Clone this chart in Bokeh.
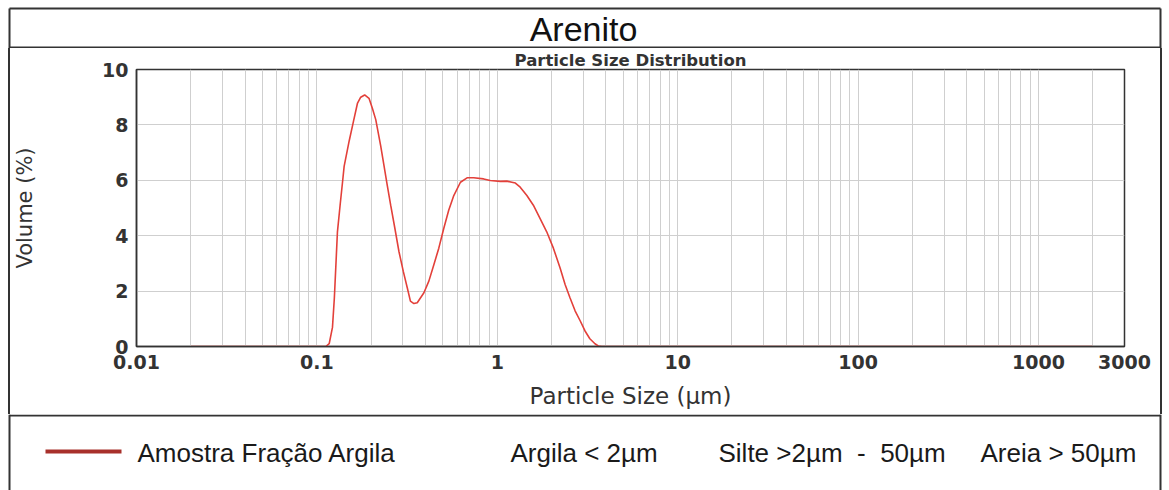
from bokeh.plotting import figure
from bokeh.models import FixedTicker, Range1d, Div
from bokeh.layouts import column, row
from bokeh.core.properties import value
from bokeh.embed import file_html
from bokeh.resources import INLINE

# Particle size distribution of the clay fraction (size in µm, volume in %)
size_um = [0.02, 0.112, 0.117, 0.122, 0.125, 0.130, 0.1345, 0.1387, 0.1416, 0.151,
           0.1595, 0.168, 0.175, 0.184, 0.1945, 0.203, 0.212, 0.2258, 0.2355, 0.2457,
           0.2565, 0.2707, 0.285, 0.3013, 0.317, 0.330, 0.345, 0.360, 0.392, 0.4175,
           0.445, 0.474, 0.505, 0.538, 0.574, 0.625, 0.68, 0.74, 0.84, 0.914,
           1.04, 1.13, 1.205, 1.26, 1.34, 1.459, 1.585, 1.728, 1.88, 2.047,
           2.23, 2.377, 2.53, 2.70, 2.88, 3.06, 3.26, 3.48, 3.63, 3.8,
           2000]
volume_pct = [0.0, 0.0, 0.10, 0.69, 1.76, 4.14, 5.10, 5.93, 6.50, 7.42,
              8.13, 8.79, 9.00, 9.08, 8.96, 8.60, 8.19, 7.24, 6.53, 5.81,
              5.10, 4.26, 3.43, 2.71, 2.12, 1.64, 1.55, 1.58, 1.94, 2.36,
              2.95, 3.55, 4.26, 4.92, 5.45, 5.93, 6.09, 6.09, 6.05, 5.99,
              5.96, 5.97, 5.93, 5.90, 5.75, 5.45, 5.10, 4.62, 4.14, 3.55,
              2.83, 2.24, 1.76, 1.29, 0.93, 0.57, 0.28, 0.10, 0.02, 0.0,
              0.0]

x_ticks = [0.01, 0.1, 1, 10, 100, 1000, 3000]
x_tick_labels = ["0.01", "0.1", "1", "10", "100", "1000", "3000"]
y_ticks = [0, 2, 4, 6, 8, 10]

title_text = "Arenito"
subtitle_text = "Particle Size Distribution"
series_name = "Amostra Fração Argila"
# non-breaking spaces keep the wide gaps around the dash
class_notes = ["Argila < 2µm", "Silte >2µm \u00a0-\u00a0 50µm", "Areia > 50µm"]

CURVE = "#e3403a"
LEGEND_RED = "#a8302b"
INK = "#333333"
GRID = "#cfcfcf"
FRAME_W = 2
HEAD_H = 48
CHART_H = 366


def panel(width, height):
    """A plain drawing surface whose data units are its own pixels (y downwards)."""
    f = figure(width=width, height=height, x_range=Range1d(0, width),
               y_range=Range1d(height, 0), min_border=0,
               x_axis_location=None, y_axis_location=None,
               output_backend="svg", toolbar_location=None)
    f.grid.visible = False
    f.outline_line_color = None
    f.background_fill_color = "white"
    f.border_fill_color = "white"
    return f


def rule(width, height, color=None):
    styles = {"background-color": color} if color else {}
    return Div(width=width, height=height, margin=0, styles=styles)


# ---- header box with the sample name
head = panel(1169, HEAD_H)
head.segment(x0=[9, 9, 1160, 9], y0=[8, 8, 8, 47], x1=[1160, 9, 1160, 1160], y1=[8, 48, 48, 47],
             line_color=INK, line_width=FRAME_W)
head.text(x=[583], y=[28], text=[title_text], text_font=value("Liberation Sans"),
          text_font_size=value("34px"), text_color="#111111",
          text_align="center", text_baseline="middle")

# ---- distribution chart
p = figure(x_axis_type="log", x_range=Range1d(0.01, 3000), y_range=Range1d(0, 10),
           frame_width=988, frame_height=277,
           min_border_left=125, min_border_right=36,
           min_border_top=21, min_border_bottom=68,
           output_backend="svg", toolbar_location=None,
           background_fill_color="white", border_fill_color="white")

p.line(size_um, volume_pct, line_color=CURVE, line_width=1.6)

p.title.text = subtitle_text
p.title.align = "center"
p.title.text_font = "DejaVu Sans"
p.title.text_font_style = "bold"
p.title.text_font_size = "16.5px"
p.title.text_color = INK
p.title.standoff = 0
p.title.offset = 0

# vertical grid at every integer multiple inside each decade
grid_ticks = []
for e in range(-2, 4):
    for m in range(1, 10):
        t = m * 10.0 ** e
        if 0.01 < t < 3000:
            grid_ticks.append(round(t, 6))
p.xgrid.ticker = FixedTicker(ticks=grid_ticks)
p.xgrid.grid_line_color = GRID
p.xgrid.grid_line_width = 1
p.ygrid.ticker = FixedTicker(ticks=[2, 4, 6, 8])
p.ygrid.grid_line_color = GRID
p.ygrid.grid_line_width = 1

p.outline_line_color = INK
p.outline_line_width = 1.5

p.xaxis.ticker = FixedTicker(ticks=x_ticks)
p.xaxis.major_label_overrides = dict(zip(x_ticks, x_tick_labels))
p.yaxis.ticker = FixedTicker(ticks=y_ticks)

for ax in (p.xaxis[0], p.yaxis[0]):
    ax.axis_line_color = INK
    ax.axis_line_width = 1.5
    ax.major_tick_out = 0
    ax.major_tick_in = 0
    ax.minor_tick_out = 0
    ax.minor_tick_in = 0
    ax.major_label_text_font = "DejaVu Sans"
    ax.major_label_text_font_style = "bold"
    ax.major_label_text_font_size = "19px"
    ax.major_label_text_color = INK
    ax.axis_label_text_font = "DejaVu Sans"
    ax.axis_label_text_font_style = "normal"
    ax.axis_label_text_color = INK

p.xaxis.major_label_standoff = 8
p.xaxis.axis_label = "Particle Size (µm)"
p.xaxis.axis_label_text_font_size = "23px"
p.xaxis.axis_label_standoff = 11
p.yaxis.major_label_standoff = 8
p.yaxis.axis_label = "Volume (%)"
p.yaxis.axis_label_text_font_size = "21px"
p.yaxis.axis_label_standoff = 62

# outer frame beside the chart: thin dark rules
middle = row(rule(8, CHART_H), rule(2, CHART_H, INK), p, rule(2, CHART_H, INK))

# ---- legend box
FOOT_H = 490 - HEAD_H - CHART_H
foot = panel(1169, FOOT_H)
foot.segment(x0=[9, 9, 1160], y0=[1, 0, 0], x1=[1160, 9, 1160], y1=[1, FOOT_H, FOOT_H],
             line_color=INK, line_width=FRAME_W)
foot.segment(x0=[45], y0=[37], x1=[121], y1=[37], line_color=LEGEND_RED, line_width=4)
foot.text(x=[137, 510, 718, 980], y=[38, 38, 38, 38], text=[series_name] + class_notes,
          text_font=value("Liberation Sans"), text_font_size=value("26px"),
          text_color="#1a1a1a", text_align="left", text_baseline="middle")

page = column(head, middle, foot)

open("out.html", "w").write(file_html(page, INLINE))
